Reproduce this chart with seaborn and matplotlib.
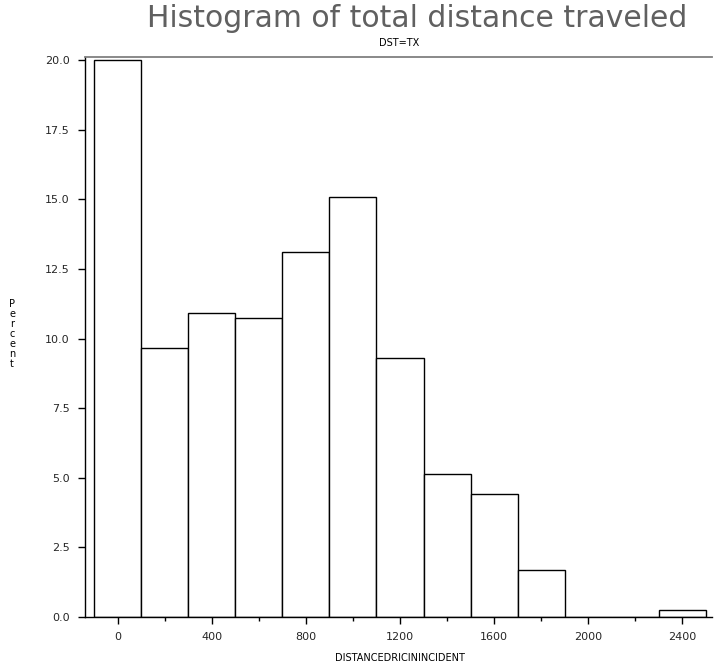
import matplotlib
matplotlib.use("Agg")
import matplotlib.pyplot as plt
import seaborn as sns
import numpy as np
from matplotlib.ticker import MultipleLocator, FixedLocator

# Data (bin midpoints, percent)
bin_mid = [0, 200, 400, 600, 800, 1000, 1200, 1400, 1600, 1800, 2000, 2200, 2400]
percent = [20.0, 9.65, 10.9, 10.75, 13.1, 15.1, 9.3, 5.15, 4.4, 1.7, 0.0, 0.0, 0.25]
x_ticks = [0, 400, 800, 1200, 1600, 2000, 2400]
y_ticks = [0.0, 2.5, 5.0, 7.5, 10.0, 12.5, 15.0, 17.5, 20.0]
title = "Histogram of total distance traveled"
subtitle = "DST=TX"
x_label = "DISTANCEDRICININCIDENT"
y_label = "Percent"

sns.set_style("white")
plt.rcParams['font.family'] = ['DejaVu Sans']

fig = plt.figure(figsize=(7.16, 6.68), dpi=100)
ax = fig.add_axes([0.1187, 0.0763, 0.876, 0.8384])

sns.histplot(x=bin_mid, weights=percent, binwidth=200, binrange=(-100, 2500),
             stat="count", color="white", edgecolor="black", linewidth=1.0,
             alpha=1.0, ax=ax)

ax.set_xlim(-140, 2528)
ax.set_ylim(0, 20.11)
ax.xaxis.set_major_locator(FixedLocator(x_ticks))
ax.xaxis.set_minor_locator(MultipleLocator(200))
ax.yaxis.set_major_locator(FixedLocator(y_ticks))
ax.set_xticklabels([str(v) for v in x_ticks])
ax.set_yticklabels([f"{v:.1f}" for v in y_ticks])
ax.tick_params(axis="both", which="major", direction="out", length=5, width=1,
               color="black", labelsize=8, pad=6, left=True, bottom=True)
ax.tick_params(axis="x", which="minor", direction="out", length=3, width=1,
               color="black", bottom=True)

for s in ["left", "bottom"]:
    ax.spines[s].set_visible(True)
    ax.spines[s].set_color("black")
    ax.spines[s].set_linewidth(1.0)
ax.spines["top"].set_visible(True)
ax.spines["top"].set_color("#808080")
ax.spines["top"].set_linewidth(1.3)
ax.spines["right"].set_visible(False)

ax.set_xlabel("")
ax.set_ylabel("")

fig.text(0.583, 0.972, title, ha="center", va="center", fontsize=21.5,
         color="#606060")
fig.text(0.558, 0.935, subtitle, ha="center", va="center", fontsize=7,
         color="black")
fig.text(0.558, 0.015, x_label, ha="center", va="center", fontsize=7,
         color="black")
fig.text(0.017, 0.50, "\n".join(y_label), ha="center", va="center",
         fontsize=7, color="black", linespacing=1.0)

fig.savefig("out.png", dpi=100)
